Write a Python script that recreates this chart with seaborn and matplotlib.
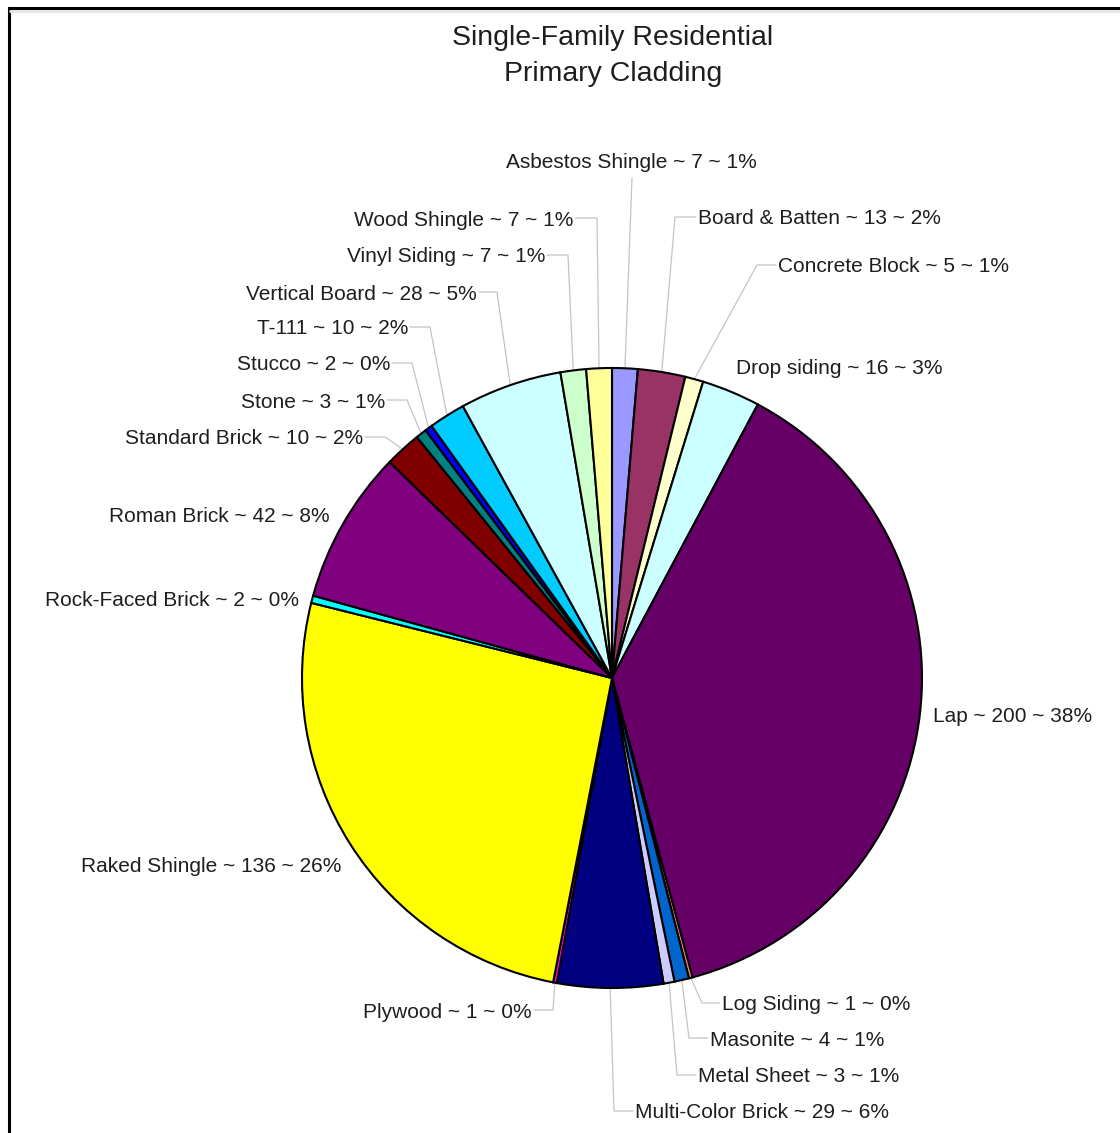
import numpy as np
import matplotlib
matplotlib.use("Agg")
import matplotlib.pyplot as plt
import seaborn as sns

# ---------------- data ----------------
categories = ["Asbestos Shingle", "Board & Batten", "Concrete Block", "Drop siding",
              "Lap", "Log Siding", "Masonite", "Metal Sheet", "Multi-Color Brick",
              "Plywood", "Raked Shingle", "Rock-Faced Brick", "Roman Brick",
              "Standard Brick", "Stone", "Stucco", "T-111", "Vertical Board",
              "Vinyl Siding", "Wood Shingle"]
counts = [7, 13, 5, 16, 200, 1, 4, 3, 29, 1, 136, 2, 42, 10, 3, 2, 10, 28, 7, 7]
title_lines = ["Single-Family Residential", "Primary Cladding"]

# ---------------- style ----------------
slice_colors = ["#9999FF", "#993366", "#FFFFCC", "#CCFFFF", "#660066", "#FF8080",
                "#0066CC", "#CCCCFF", "#000080", "#FF00FF", "#FFFF00", "#00FFFF",
                "#800080", "#800000", "#008080", "#0000FF", "#00CCFF", "#CCFFFF",
                "#CCFFCC", "#FFFF99"]

# label layout in pixel coordinates (x, y from top, ha, elbow offset or None)
label_layout = [
    (631, 160, "center", "below"),   # Asbestos
    (698, 217, "left", -23),         # Board & Batten
    (778, 265, "left", -21),         # Concrete Block
    (736, 367, "left", None),        # Drop siding
    (933, 715, "left", None),        # Lap
    (722, 1003, "left", -20),        # Log Siding
    (710, 1038, "left", -21),        # Masonite
    (698, 1075, "left", -21),        # Metal Sheet
    (635, 1111, "left", -21),        # Multi-Color Brick
    (532, 1010, "right", 21),        # Plywood
    (341, 864, "right", None),       # Raked Shingle
    (299, 598, "right", None),       # Rock-Faced Brick
    (330, 515, "right", None),       # Roman Brick
    (363, 437, "right", 22),         # Standard Brick
    (385, 400, "right", 22),         # Stone
    (390, 363, "right", 22),         # Stucco
    (408, 327, "right", 22),         # T-111
    (477, 292, "right", 20),         # Vertical Board
    (545, 255, "right", 23),         # Vinyl Siding
    (573, 218, "right", 24),         # Wood Shingle
]

W, H = 1120, 1133
sns.set_theme(style="white")
plt.rcParams["font.family"] = ["Liberation Sans", "DejaVu Sans"]
palette = sns.color_palette(slice_colors)

fig = plt.figure(figsize=(W / 100, H / 100), dpi=100)
fig.patch.set_facecolor("white")
ax = fig.add_axes([0, 0, 1, 1])

cx, cy, R = 612, H - 678, 310
wedges, _ = ax.pie(counts, colors=palette, startangle=90, counterclock=False,
                   center=(cx, cy), radius=R,
                   wedgeprops=dict(edgecolor="black", linewidth=1.5))
ax.set_xlim(0, W)
ax.set_ylim(0, H)
ax.set_aspect("equal")
ax.axis("off")

total = sum(counts)
text_color = "#1E1E1E"
lead_color = "#C4C4C4"
tdy = 2  # small vertical nudge so glyphs sit like the reference
for w, name, v, (lx, ly, ha, elbow) in zip(wedges, categories, counts, label_layout):
    pct = int(round(100.0 * v / total))
    label = f"{name} ~ {v} ~ {pct}%"
    Y = H - ly
    ax.text(lx, Y - tdy, label, ha=ha, va="center", fontsize=15, color=text_color)
    if elbow is None:
        continue
    mid = np.deg2rad((w.theta1 + w.theta2) / 2.0)
    px, py = cx + R * np.cos(mid), cy + R * np.sin(mid)
    if elbow == "below":
        ax.plot([lx + 1, px], [Y - 18, py], color=lead_color, lw=0.9, zorder=0.5)
    else:
        start = lx + (2 if ha == "right" else -2)
        ex = lx + elbow
        ax.plot([start, ex, px], [Y, Y, py], color=lead_color, lw=0.9, zorder=0.5)

# title
ax.text(613, H - 36 - tdy, title_lines[0], ha="center", va="center", fontsize=20.5, color=text_color)
ax.text(613, H - 72 - tdy, title_lines[1], ha="center", va="center", fontsize=20.5, color=text_color)

# chart border (top and left visible)
ax.plot([8.5, W + 5], [H - 7.5, H - 7.5], color="black", lw=2.2, solid_capstyle="projecting")
ax.plot([8.5, 8.5], [H - 7.5, -5], color="black", lw=2.2, solid_capstyle="projecting")
ax.plot([10, W + 5], [H - 11, H - 11], color="#E6E6E6", lw=2)

fig.savefig("out.png", dpi=100, facecolor="white")
